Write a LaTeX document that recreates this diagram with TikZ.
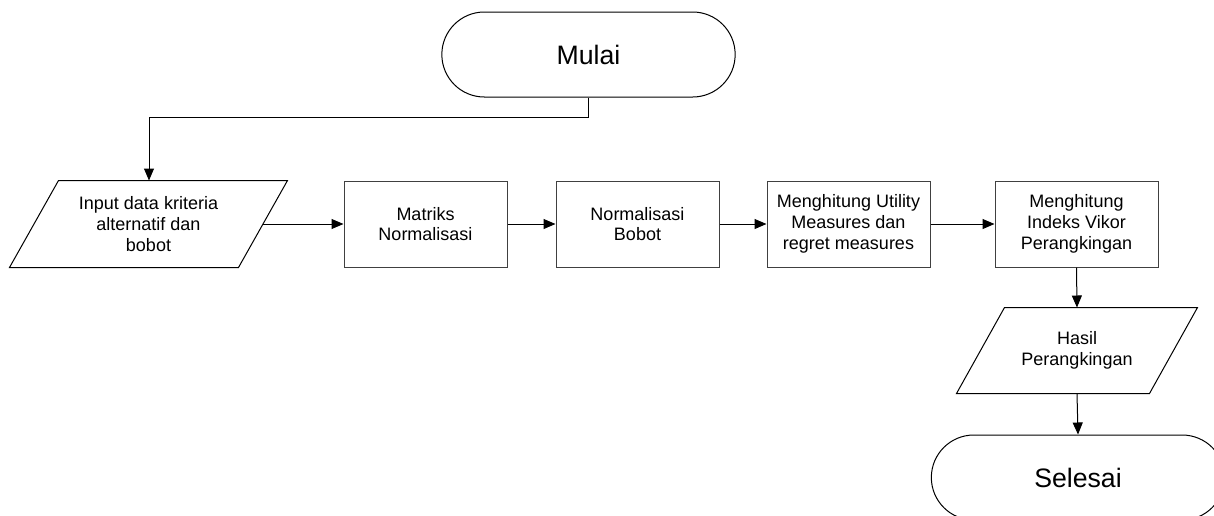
\documentclass[tikz,border=0pt]{standalone}
\usepackage{fontspec}
\setmainfont{Liberation Sans}
\usetikzlibrary{arrows.meta,shapes.misc,calc}
\begin{document}
\begin{tikzpicture}[x=0.75pt,y=-0.75pt,
  line width=0.75pt,
  term/.style={draw, rounded rectangle, rounded rectangle arc length=180,
    minimum width=220pt, minimum height=63.75pt, inner sep=0pt,
    font=\fontsize{20}{24}\selectfont},
  procbox/.style={draw=black!75, rectangle, minimum width=122.25pt, minimum height=64.5pt,
    inner sep=0pt, align=center, font=\fontsize{13.5}{15.5}\selectfont},
  iobox/.style={rectangle, minimum height=64.5pt, inner sep=0pt, align=center,
    font=\fontsize{13.5}{15.5}\selectfont},
  arr/.style={-{Triangle[length=9pt,width=7.5pt]}}
]
\clip (0,0) rectangle (1214,515);
\fill[white] (0,0) rectangle (1214,515);

\node[term] (mulai) at (588.5,54.5) {Mulai};
\node[iobox, minimum width=207.75pt] (input) at (148.5,224)
  {Input data kriteria\\alternatif dan\\bobot};
\node[procbox] (matriks) at (425.5,224) {Matriks\\Normalisasi};
\node[procbox] (normal) at (637.5,224) {Normalisasi\\Bobot};
\node[procbox] (utility) at (848.5,224) {Menghitung Utility\\Measures dan\\regret measures};
\node[procbox] (indeks) at (1076.5,224) {Menghitung\\Indeks Vikor\\Perangkingan};
\node[iobox, minimum width=180pt, minimum height=63.75pt] (hasil) at (1077,350.5)
  {Hasil\\Perangkingan};
\node[term] (selesai) at (1078,477.5) {Selesai};

% parallelogram outlines
\draw (input.south west) -- ($(input.north west)+(49,0)$) -- (input.north east)
  -- ($(input.south east)+(-49,0)$) -- cycle;
\draw (hasil.south west) -- ($(hasil.north west)+(48,0)$) -- (hasil.north east)
  -- ($(hasil.south east)+(-48,0)$) -- cycle;

% connectors
\coordinate (bend) at (149,117);
\draw[arr] (mulai.south) |- (bend) -- (bend |- input.north);
\coordinate (inright) at ($(input.east)+(-24.5,0)$);
\draw[arr] (inright) -- (matriks.west);
\draw[arr] (matriks.east) -- (normal.west);
\draw[arr] (normal.east) -- (utility.west);
\draw[arr] (utility.east) -- (indeks.west);
\draw[arr] (indeks.south) -- (hasil.north);
\draw[arr] (hasil.south) -- (selesai.north);
\end{tikzpicture}
\end{document}
